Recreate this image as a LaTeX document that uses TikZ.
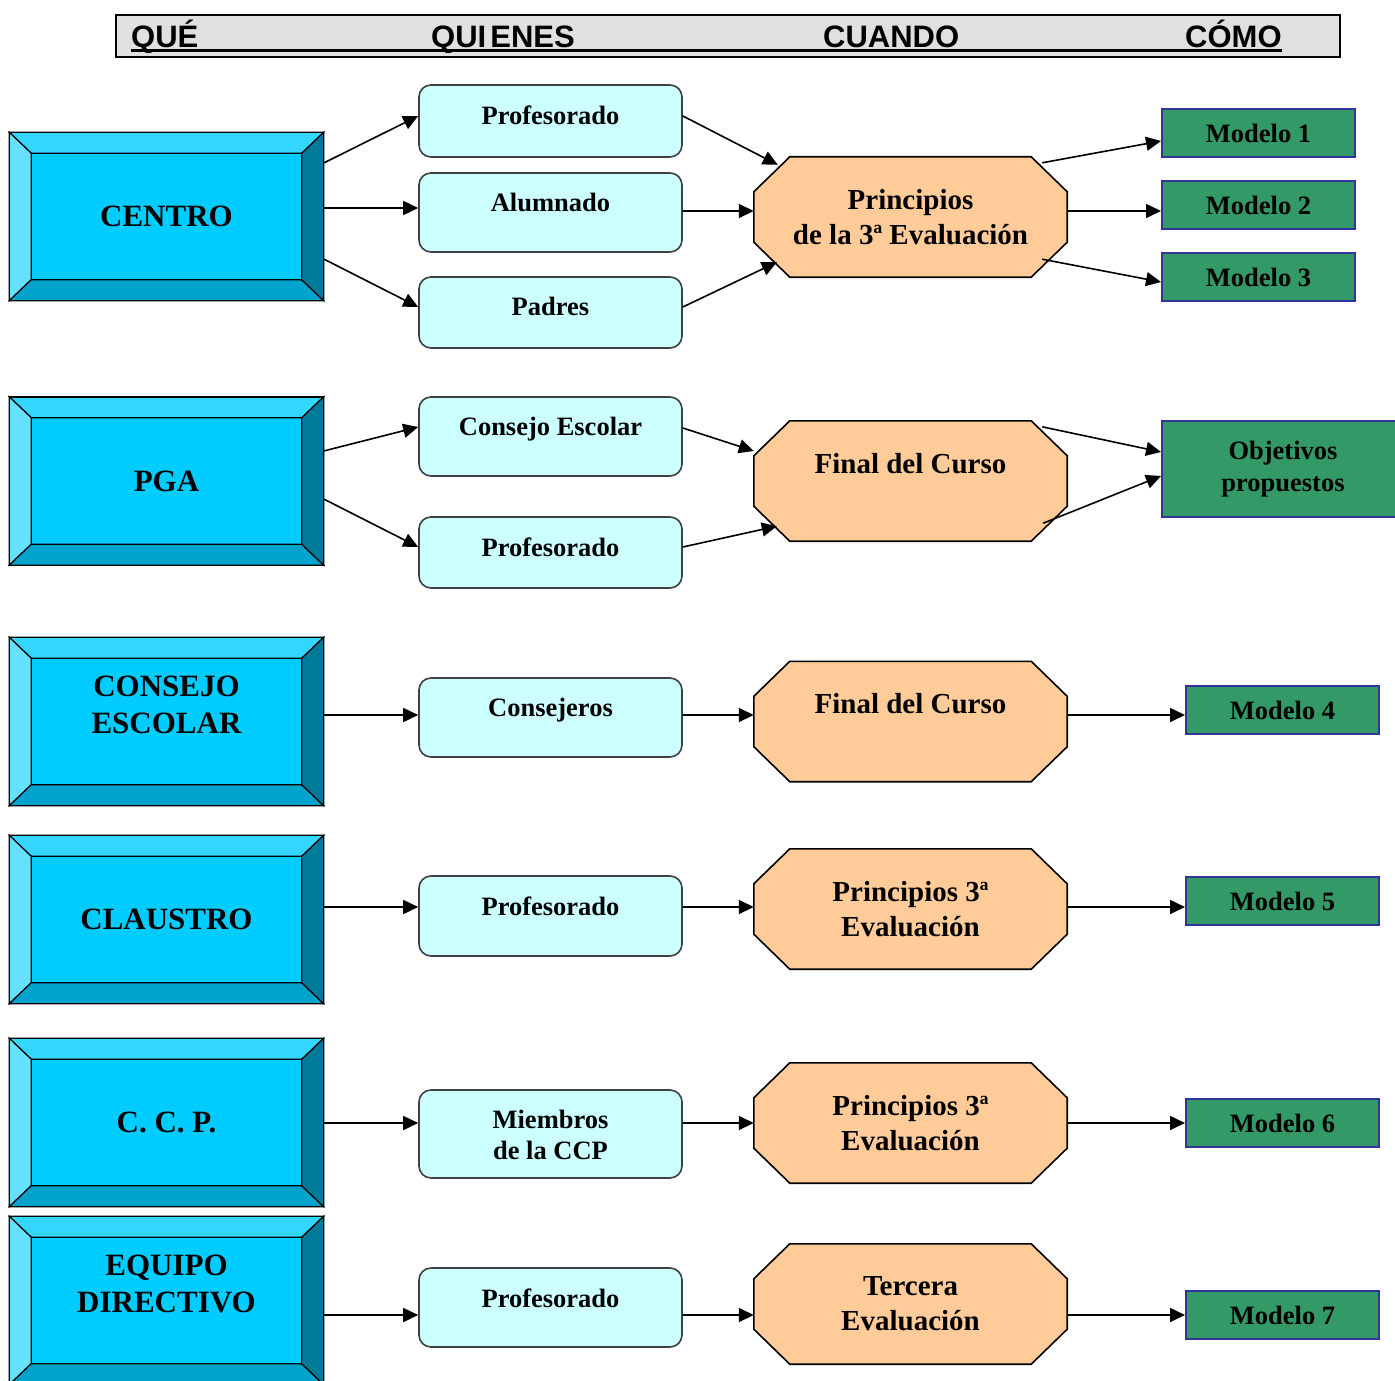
\documentclass[tikz,border=0pt]{standalone}
\usepackage{fontspec}
\setmainfont{Liberation Serif}
\newfontfamily\cabecera{Liberation Sans}
\usetikzlibrary{arrows.meta}
\usetikzlibrary{positioning}

\definecolor{gris}{HTML}{E0E0E0}
\definecolor{biselcentro}{HTML}{00CCFF}
\definecolor{biselsup}{HTML}{33D6FF}
\definecolor{biselizq}{HTML}{66E0FF}
\definecolor{biselinf}{HTML}{00A3CC}
\definecolor{biselder}{HTML}{007A99}
\definecolor{celeste}{HTML}{CCFFFF}
\definecolor{melocoton}{HTML}{FFCC99}
\definecolor{verde}{HTML}{339966}
\definecolor{azul}{HTML}{333399}

\tikzset{
  que/.style={draw, line width=1.4bp, fill=biselcentro, minimum width=313bp, minimum height=167bp, inner sep=0pt},
  quien/.style={draw=black!75, line width=1.6bp, fill=celeste, rounded corners=12bp, minimum width=263bp, inner sep=0pt},
  cuando/.style={minimum width=313bp, minimum height=120bp, inner sep=0pt},
  octa/.style={draw, line width=1.6bp, fill=melocoton},
  como/.style={draw=azul, line width=2bp, fill=verde, minimum width=193bp, minimum height=48bp, align=center,
    font=\bfseries\fontsize{26.5bp}{32bp}\selectfont},
  rotque/.style={inner sep=0pt, align=center, font=\bfseries\fontsize{31bp}{37bp}\selectfont},
  rotulo/.style={inner sep=0pt, align=center, font=\bfseries\fontsize{26.5bp}{31bp}\selectfont},
  rotcuando/.style={inner sep=0pt, align=center, font=\bfseries\fontsize{29bp}{35bp}\selectfont},
  titulo/.style={inner sep=0pt, anchor=base west, font=\cabecera\bfseries\fontsize{31bp}{36bp}\selectfont},
}

% bisel de las cajas de la izquierda
\newcommand{\bisel}[1]{%
  \filldraw[fill=biselsup, line width=1.2bp] (#1.north west) -- (#1.north east)
    -- ([shift={(-22bp,-21bp)}]#1.north east) -- ([shift={(22bp,-21bp)}]#1.north west) -- cycle;
  \filldraw[fill=biselizq, line width=1.2bp] (#1.north west) -- ([shift={(22bp,-21bp)}]#1.north west)
    -- ([shift={(22bp,21bp)}]#1.south west) -- (#1.south west) -- cycle;
  \filldraw[fill=biselinf, line width=1.2bp] (#1.south west) -- ([shift={(22bp,21bp)}]#1.south west)
    -- ([shift={(-22bp,21bp)}]#1.south east) -- (#1.south east) -- cycle;
  \filldraw[fill=biselder, line width=1.2bp] (#1.north east) -- (#1.south east)
    -- ([shift={(-22bp,21bp)}]#1.south east) -- ([shift={(-22bp,-21bp)}]#1.north east) -- cycle;
  \draw[line width=1.4bp] (#1.north west) rectangle (#1.south east);}

% octogono de la columna CUANDO
\newcommand{\octagono}[1]{%
  \filldraw[octa] ([xshift=36bp]#1.north west) -- ([xshift=-36bp]#1.north east)
    -- ([yshift=-35bp]#1.north east) -- ([yshift=35bp]#1.south east)
    -- ([xshift=-36bp]#1.south east) -- ([xshift=36bp]#1.south west)
    -- ([yshift=35bp]#1.south west) -- ([yshift=-35bp]#1.north west) -- cycle;}

\begin{document}
\begin{tikzpicture}[x=1bp,y=-1bp,>={Triangle[length=15bp,width=14bp]},line join=miter]
\useasboundingbox (0,0) rectangle (1395,1381);
%% cabecera
\node[draw, line width=1.6bp, fill=gris, minimum width=1224bp, minimum height=42bp] (cabeza) at (728,36) {};
\node[titulo] (h-que) at (131,48) {QUÉ};
\node[titulo] (h-quienes) at (431,48) {QUI\kern4bp ENES};
\node[titulo] (h-cuando) at (823,48) {CUANDO};
\node[titulo] (h-como) at (1185,48) {CÓMO};
\draw[line width=3bp] ([yshift=-3bp]h-que.base west) -- ([yshift=-3bp]h-como.base east);
%% QUE
\node[que] (que1) at (166.5,216.5) {};
\node[que] (que2) at (166.5,481) {};
\node[que] (que3) at (166.5,721.5) {};
\node[que] (que4) at (166.5,919.5) {};
\node[que] (que5) at (166.5,1122.5) {};
\node[que] (que6) at (166.5,1300.5) {};
\bisel{que1} \bisel{que2} \bisel{que3} \bisel{que4} \bisel{que5} \bisel{que6}
\node[rotque] (r-que1) at (que1) {CENTRO};
\node[rotque] (r-que2) at (que2) {PGA};
\node[rotque] (r-que3) at ([yshift=17bp]que3.center) {CONSEJO\\ESCOLAR};
\node[rotque] (r-que4) at (que4) {CLAUSTRO};
\node[rotque] (r-que5) at (que5) {C. C. P.};
\node[rotque] (r-que6) at ([yshift=16.5bp]que6.center) {EQUIPO\\DIRECTIVO};
%% QUIENES
\node[quien, minimum height=72bp] (quien1) at (550.5,121) {};
\node[quien, minimum height=79bp] (quien2) at (550.5,212.5) {};
\node[quien, minimum height=71bp] (quien3) at (550.5,312.5) {};
\node[quien, minimum height=79bp] (quien4) at (550.5,436.5) {};
\node[quien, minimum height=71bp] (quien5) at (550.5,552.5) {};
\node[quien, minimum height=79bp] (quien6) at (550.5,717.5) {};
\node[quien, minimum height=80bp] (quien7) at (550.5,916) {};
\node[quien, minimum height=88bp] (quien8) at (550.5,1134) {};
\node[quien, minimum height=79bp] (quien9) at (550.5,1307.5) {};
\node[rotulo, below=21bp of quien1.north] (r-quien1) {Profesorado};
\node[rotulo, below=21bp of quien2.north] (r-quien2) {Alumnado};
\node[rotulo, below=21bp of quien3.north] (r-quien3) {Padres};
\node[rotulo, below=21bp of quien4.north] (r-quien4) {Consejo Escolar};
\node[rotulo, below=21bp of quien5.north] (r-quien5) {Profesorado};
\node[rotulo, below=21bp of quien6.north] (r-quien6) {Consejeros};
\node[rotulo, below=21bp of quien7.north] (r-quien7) {Profesorado};
\node[rotulo, below=21bp of quien8.north] (r-quien8) {Miembros\\de la CCP};
\node[rotulo, below=21bp of quien9.north] (r-quien9) {Profesorado};
%% CUANDO
\node[cuando] (cuando1) at (910.5,217) {};
\node[cuando] (cuando2) at (910.5,481) {};
\node[cuando] (cuando3) at (910.5,721.5) {};
\node[cuando] (cuando4) at (910.5,909) {};
\node[cuando] (cuando5) at (910.5,1123) {};
\node[cuando] (cuando6) at (910.5,1304) {};
\octagono{cuando1} \octagono{cuando2} \octagono{cuando3}
\octagono{cuando4} \octagono{cuando5} \octagono{cuando6}
\node[rotcuando, below=32bp of cuando1.north] (r-cuando1) {Principios\\de la 3ª Evaluación};
\node[rotcuando, below=32bp of cuando2.north] (r-cuando2) {Final del Curso};
\node[rotcuando, below=32bp of cuando3.north] (r-cuando3) {Final del Curso};
\node[rotcuando, below=32bp of cuando4.north] (r-cuando4) {Principios 3ª\\Evaluación};
\node[rotcuando, below=32bp of cuando5.north] (r-cuando5) {Principios 3ª\\Evaluación};
\node[rotcuando, below=32bp of cuando6.north] (r-cuando6) {Tercera\\Evaluación};
%% COMO
\node[como] (como1) at (1258.5,133) {Modelo 1};
\node[como] (como2) at (1258.5,205) {Modelo 2};
\node[como] (como3) at (1258.5,277) {Modelo 3};
\node[como, minimum width=242bp, minimum height=96bp] (como4) at (1283,469) {Objetivos\\propuestos};
\node[como] (como5) at (1282.5,710) {Modelo 4};
\node[como] (como6) at (1282.5,901) {Modelo 5};
\node[como] (como7) at (1282.5,1123) {Modelo 6};
\node[como] (como8) at (1282.5,1315) {Modelo 7};
%% flechas
\begin{scope}[line width=1.6bp]
\draw[->] ([yshift=53.5bp]que1.east) -- ([yshift=5bp]quien1.west);
\draw[->] ([yshift=8.5bp]que1.east) -- ([yshift=4.5bp]quien2.west);
\draw[->] ([yshift=-42.5bp]que1.east) -- ([yshift=5.5bp]quien3.west);
\draw[->] ([yshift=5bp]quien1.east) -- ([shift={(24bp,-8bp)}]cuando1.north west);
\draw[->] ([yshift=1.5bp]quien2.east) -- ([yshift=6bp]cuando1.west);
\draw[->] ([yshift=5.5bp]quien3.east) -- ([shift={(23bp,15bp)}]cuando1.south west);
\draw[->] ([shift={(-25bp,-6bp)}]cuando1.north east) -- ([yshift=-8bp]como1.west);
\draw[->] ([yshift=6bp]cuando1.east) -- ([yshift=-6bp]como2.west);
\draw[->] ([shift={(-25bp,18bp)}]cuando1.south east) -- ([yshift=-5bp]como3.west);
%
\draw[->] ([yshift=30bp]que2.east) -- ([yshift=9.5bp]quien4.west);
\draw[->] ([yshift=-18bp]que2.east) -- ([yshift=5.5bp]quien5.west);
\draw[->] ([yshift=8.5bp]quien4.east) -- ([yshift=30bp]cuando2.west);
\draw[->] ([yshift=5.5bp]quien5.east) -- ([shift={(23bp,15bp)}]cuando2.south west);
\draw[->] ([shift={(-25bp,-6bp)}]cuando2.north east) -- ([yshift=17bp]como4.west);
\draw[->] ([shift={(-24bp,18bp)}]cuando2.south east) -- ([yshift=-7bp]como4.west);
%
\coordinate (fila3) at (0,715);
\coordinate (fila4) at (0,907);
\coordinate (fila5) at (0,1123);
\coordinate (fila6) at (0,1315);
\draw[->] (que3.east |- fila3) -- (quien6.west |- fila3);
\draw[->] (quien6.east |- fila3) -- (cuando3.west |- fila3);
\draw[->] (cuando3.east |- fila3) -- (como5.west |- fila3);
\draw[->] (que4.east |- fila4) -- (quien7.west |- fila4);
\draw[->] (quien7.east |- fila4) -- (cuando4.west |- fila4);
\draw[->] (cuando4.east |- fila4) -- (como6.west |- fila4);
\draw[->] (que5.east |- fila5) -- (quien8.west |- fila5);
\draw[->] (quien8.east |- fila5) -- (cuando5.west |- fila5);
\draw[->] (cuando5.east |- fila5) -- (como7.west |- fila5);
\draw[->] (que6.east |- fila6) -- (quien9.west |- fila6);
\draw[->] (quien9.east |- fila6) -- (cuando6.west |- fila6);
\draw[->] (cuando6.east |- fila6) -- (como8.west |- fila6);
\end{scope}
%
\end{tikzpicture}
\end{document}
